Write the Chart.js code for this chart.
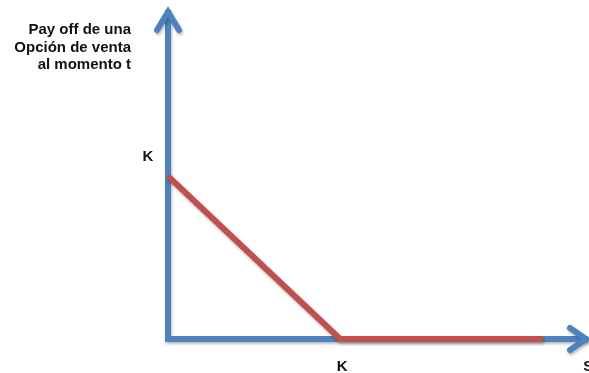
<!DOCTYPE html>
<html>
<head>
<meta charset="utf-8">
<script src="https://cdn.jsdelivr.net/npm/chart.js@4"></script>
<style>
  body { margin: 0; background: #fff; }
  canvas { display: block; }
</style>
</head>
<body>
<canvas id="payoff-chart" width="589" height="373"></canvas>
<script>
// data (strike K = 100)
const strike = 100;
const spot = [0, 100, 218];
const payoff = [100, 0, 0];
const axisX = [0, 0, 244];
const axisY = [202, 0, 0];
const xTickValues = [100, 243];
const xTickLabels = ['K', 'S'];
const yTickValues = [100];
const yTickLabels = ['K'];
const titleLines = ['Pay off de una', 'Opción de venta', 'al momento t'];

const blue = '#4f81bd';
const red = '#c0504d';
const font = 'bold 15px "Liberation Sans", Arial, sans-serif';

function toPoints(xs, ys) {
  let pts = [];
  for (let i = 0; i < xs.length; i++) {
    pts.push({x: xs[i], y: ys[i]});
  }
  return pts;
}

// soft shadow under the lines
const shadowPlugin = {
  id: 'shadow',
  beforeDatasetsDraw(chart) {
    const ctx = chart.ctx;
    ctx.save();
    ctx.shadowColor = 'rgba(0,0,0,0.28)';
    ctx.shadowBlur = 3;
    ctx.shadowOffsetX = 1;
    ctx.shadowOffsetY = 2;
  },
  afterDatasetsDraw(chart) {
    chart.ctx.restore();
  }
};

// arrow heads + labels
const decorPlugin = {
  id: 'decor',
  afterDraw(chart) {
    const ctx = chart.ctx;
    const xs = chart.scales.x;
    const ys = chart.scales.y;
    const x0 = xs.getPixelForValue(0);
    const y0 = ys.getPixelForValue(0);
    const xEnd = xs.getPixelForValue(axisX[axisX.length - 1]);
    const yTop = ys.getPixelForValue(axisY[0]);

    ctx.save();
    ctx.strokeStyle = blue;
    ctx.lineWidth = 6;
    ctx.lineCap = 'round';
    ctx.lineJoin = 'miter';
    ctx.shadowColor = 'rgba(0,0,0,0.28)';
    ctx.shadowBlur = 3;
    ctx.shadowOffsetX = 1;
    ctx.shadowOffsetY = 2;
    // y arrow
    ctx.beginPath();
    ctx.moveTo(x0 - 11, yTop + 20);
    ctx.lineTo(x0, yTop + 2);
    ctx.lineTo(x0 + 11, yTop + 20);
    ctx.stroke();
    // x arrow
    ctx.beginPath();
    ctx.moveTo(xEnd - 18, y0 - 11);
    ctx.lineTo(xEnd - 2, y0);
    ctx.lineTo(xEnd - 18, y0 + 11);
    ctx.stroke();
    ctx.restore();

    ctx.save();
    ctx.fillStyle = '#111';
    ctx.font = font;
    ctx.textBaseline = 'middle';
    ctx.textAlign = 'center';
    for (let i = 0; i < xTickValues.length; i++) {
      ctx.fillText(xTickLabels[i], xs.getPixelForValue(xTickValues[i]) + 2, y0 + 28);
    }
    for (let i = 0; i < yTickValues.length; i++) {
      ctx.fillText(yTickLabels[i], x0 - 20, ys.getPixelForValue(yTickValues[i]) - 19);
    }
    ctx.textAlign = 'right';
    for (let i = 0; i < titleLines.length; i++) {
      ctx.fillText(titleLines[i], x0 - 37, 30 + i * 17.5);
    }
    ctx.restore();
  }
};

const ctp = document.getElementById('payoff-chart');
const payoffChart = new Chart(ctp, {
  type: 'line',
  data: {
    datasets: [
      {
        label: 'ejes',
        data: toPoints(axisX, axisY),
        borderColor: blue,
        borderWidth: 6,
        borderJoinStyle: 'miter',
        borderCapStyle: 'butt',
        pointRadius: 0,
        clip: false,
        order: 2
      },
      {
        label: 'pay off',
        data: toPoints(spot, payoff),
        borderColor: red,
        borderWidth: 6,
        borderCapStyle: 'butt',
        pointRadius: 0,
        clip: false,
        order: 1
      }
    ]
  },
  options: {
    responsive: false,
    animation: false,
    layout: { padding: { left: 168, right: 1, top: 10, bottom: 34 } },
    scales: {
      x: { type: 'linear', min: 0, max: axisX[2], display: false },
      y: { type: 'linear', min: 0, max: axisY[0], display: false }
    },
    plugins: {
      legend: { display: false },
      tooltip: { enabled: false }
    }
  },
  plugins: [shadowPlugin, decorPlugin]
});
</script>
</body>
</html>
